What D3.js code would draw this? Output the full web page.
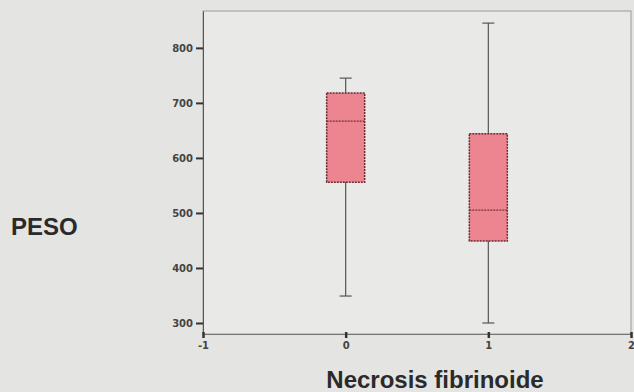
<!DOCTYPE html>
<html>
<head>
<meta charset="utf-8">
<script src="https://cdn.jsdelivr.net/npm/d3@7"></script>
<style>
  body { margin: 0; background: #e4e4e2; }
  svg { display: block; }
</style>
</head>
<body>
<svg id="chart"></svg>
<script>
// box plot stats
const groups = [0, 1];
const whiskerLow = [349, 300];
const q1 = [556, 449];
const median = [667, 505];
const q3 = [718, 644];
const whiskerHigh = [745, 845];
const yTicks = [300, 400, 500, 600, 700, 800];
const xTicks = [-1, 0, 1, 2];

const width = 634, height = 392;
const margin = {top: 11, right: 3, bottom: 58, left: 203};
const w = width - margin.left - margin.right,
  h = height - margin.top - margin.bottom;

const svg = d3.select('#chart')
  .attr('width', width)
  .attr('height', height);

const x = d3.scaleLinear().domain([-1, 2]).range([0, w]);
const y = d3.scaleLinear().domain([280, 867]).range([h, 0]);

const g = svg.append('g')
  .attr('transform', 'translate(' + margin.left + ',' + margin.top + ')');

// frame
g.append('rect')
  .attr('width', w).attr('height', h)
  .attr('fill', '#e9e9e8')
  .attr('stroke', '#9a9a9a')
  .attr('stroke-width', 1);

const tickFont = 'DejaVu Sans, sans-serif';
const yAxis = d3.axisLeft(y).tickValues(yTicks).tickSize(7).tickSizeOuter(0).tickPadding(3);
const xAxis = d3.axisBottom(x).tickValues(xTicks).tickSize(4).tickSizeOuter(0).tickPadding(4)
  .tickFormat(d => String(d));

g.append('g').call(yAxis)
  .call(a => a.select('.domain').attr('stroke', '#555'))
  .call(a => a.selectAll('.tick line').attr('stroke', '#333').attr('stroke-width', 2))
  .call(a => a.selectAll('text')
    .attr('font-family', tickFont)
    .attr('font-size', 10).attr('font-weight', 'bold').attr('fill', '#444'));

g.append('g').attr('transform', 'translate(0,' + h + ')').call(xAxis)
  .call(a => a.select('.domain').attr('stroke', '#777'))
  .call(a => a.selectAll('.tick line').attr('stroke', '#333').attr('stroke-width', 2.5).attr('y1', -2))
  .call(a => a.selectAll('text')
    .attr('font-family', tickFont)
    .attr('font-size', 10).attr('font-weight', 'bold').attr('fill', '#444'));

const boxW = 38, capW = 12;
const boxes = g.selectAll('g.box').data(groups).enter().append('g')
  .attr('class', 'box')
  .attr('transform', d => 'translate(' + x(d) + ',0)');

boxes.append('line')
  .attr('x1', 0).attr('x2', 0)
  .attr('y1', (d, i) => y(whiskerLow[i])).attr('y2', (d, i) => y(whiskerHigh[i]))
  .attr('stroke', '#555').attr('stroke-width', 1.2);
boxes.append('line')
  .attr('x1', -capW / 2).attr('x2', capW / 2)
  .attr('y1', (d, i) => y(whiskerHigh[i])).attr('y2', (d, i) => y(whiskerHigh[i]))
  .attr('stroke', '#555').attr('stroke-width', 1.2);
boxes.append('line')
  .attr('x1', -capW / 2).attr('x2', capW / 2)
  .attr('y1', (d, i) => y(whiskerLow[i])).attr('y2', (d, i) => y(whiskerLow[i]))
  .attr('stroke', '#555').attr('stroke-width', 1.2);
boxes.append('rect')
  .attr('x', -boxW / 2).attr('width', boxW)
  .attr('y', (d, i) => y(q3[i]))
  .attr('height', (d, i) => y(q1[i]) - y(q3[i]))
  .attr('fill', '#ec8590')
  .attr('stroke', '#6a2a30').attr('stroke-width', 1.5)
  .attr('stroke-dasharray', '2,1');
boxes.append('line')
  .attr('x1', -boxW / 2).attr('x2', boxW / 2)
  .attr('y1', (d, i) => y(median[i])).attr('y2', (d, i) => y(median[i]))
  .attr('stroke', '#7a3036').attr('stroke-width', 1.2)
  .attr('stroke-dasharray', '2,1');

svg.append('text')
  .attr('x', 11).attr('y', 235)
  .attr('font-family', 'Arial, Liberation Sans, sans-serif')
  .attr('font-size', 24).attr('font-weight', 'bold').attr('fill', '#2a2a2a')
  .text('PESO');

svg.append('text')
  .attr('x', 435).attr('y', 388)
  .attr('text-anchor', 'middle')
  .attr('font-family', 'Arial, Liberation Sans, sans-serif')
  .attr('font-size', 24).attr('font-weight', 'bold').attr('fill', '#2a2a2a')
  .text('Necrosis fibrinoide');
</script>
</body>
</html>
